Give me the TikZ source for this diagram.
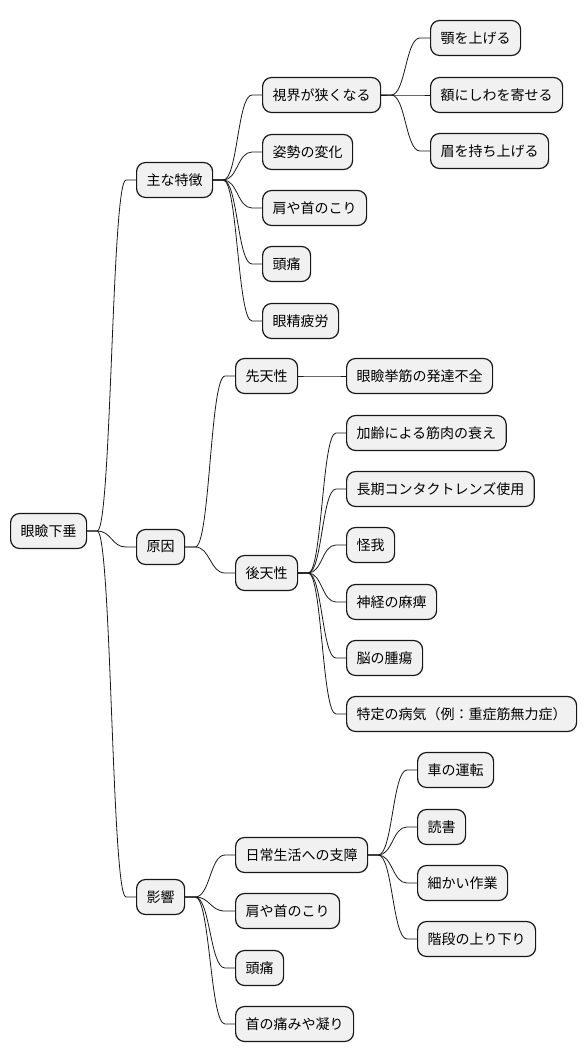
\documentclass[tikz,border=0pt]{standalone}
\usepackage{fontspec}
\setmainfont{Noto Sans CJK JP}
\usetikzlibrary{calc}
\definecolor{boxfill}{HTML}{F1F1F1}
\definecolor{boxline}{HTML}{181818}
\begin{document}
\begin{tikzpicture}[x=1pt,y=-1pt,
  box/.style={draw=boxline, fill=boxfill, rounded corners=9pt, line width=1.2pt,
    inner xsep=10pt, inner ysep=0pt, minimum height=35pt, anchor=west,
    font=\fontsize{14pt}{16pt}\selectfont},
  link/.style={draw=boxline, line width=0.8pt},
  mm/.style={to path={let \p1=(\tikztostart), \p2=(\tikztotarget), \n1={0.5*\x1+0.5*\x2} in
    (\p1) -- ([xshift=10pt]\p1) .. controls (\n1,\y1) and (\n1,\y2) .. ([xshift=-10pt]\p2) -- (\p2)}}]
\useasboundingbox (0,0) rectangle (586,1062);

\node[box] (root) at (10,531) {眼瞼下垂};

\node[box] (a) at (136,180) {主な特徴};
\node[box] (a1) at (262,95) {視界が狭くなる};
\node[box] (a11) at (430,38) {顎を上げる};
\node[box] (a12) at (430,95) {額にしわを寄せる};
\node[box] (a13) at (430,151) {眉を持ち上げる};
\node[box] (a2) at (262,152) {姿勢の変化};
\node[box] (a3) at (262,208) {肩や首のこり};
\node[box] (a4) at (262,264) {頭痛};
\node[box] (a5) at (262,321) {眼精疲労};

\node[box] (b) at (136,547) {原因};
\node[box] (b1) at (235,376) {先天性};
\node[box] (b11) at (346,376) {眼瞼挙筋の発達不全};
\node[box] (b2) at (235,573) {後天性};
\node[box] (b21) at (346,433) {加齢による筋肉の衰え};
\node[box] (b22) at (346,489) {長期コンタクトレンズ使用};
\node[box] (b23) at (346,545) {怪我};
\node[box] (b24) at (346,602) {神経の麻痺};
\node[box] (b25) at (346,658) {脳の腫瘍};
\node[box] (b26) at (346,714) {特定の病気（例：重症筋無力症）};

\node[box] (c) at (136,897) {影響};
\node[box] (c1) at (235,855) {日常生活への支障};
\node[box] (c11) at (417,770) {車の運転};
\node[box] (c12) at (417,827) {読書};
\node[box] (c13) at (417,883) {細かい作業};
\node[box] (c14) at (417,939) {階段の上り下り};
\node[box] (c2) at (235,911) {肩や首のこり};
\node[box] (c3) at (235,968) {頭痛};
\node[box] (c4) at (235,1024) {首の痛みや凝り};

\foreach \p/\c in {root/a,root/b,root/c,
  a/a1,a/a2,a/a3,a/a4,a/a5,a1/a11,a1/a12,a1/a13,
  b/b1,b/b2,b1/b11,b2/b21,b2/b22,b2/b23,b2/b24,b2/b25,b2/b26,
  c/c1,c/c2,c/c3,c/c4,c1/c11,c1/c12,c1/c13,c1/c14}
  \draw[link] (\p.east) to[mm] (\c.west);
\end{tikzpicture}
\end{document}
